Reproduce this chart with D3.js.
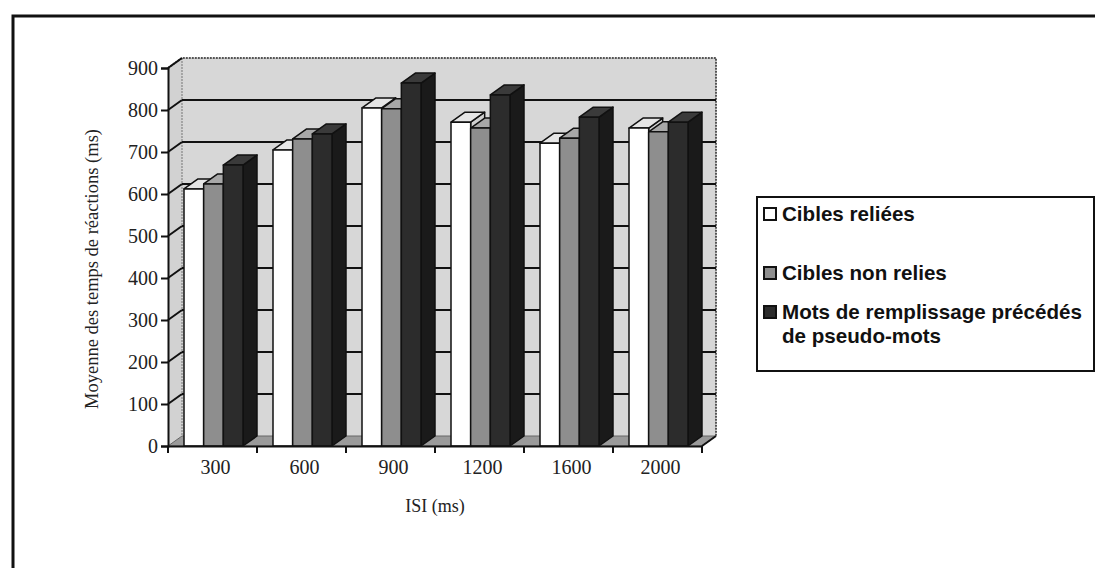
<!DOCTYPE html>
<html>
<head>
<meta charset="utf-8">
<script src="https://cdn.jsdelivr.net/npm/d3@7"></script>
<style>
  html, body { margin: 0; padding: 0; background: #fff; }
  svg { display: block; }
</style>
</head>
<body>
<svg id="chart" width="1095" height="568"></svg>
<script>
// ISI conditions (x categories)
const categories = ["300", "600", "900", "1200", "1600", "2000"];
// Mean reaction times (ms) per series
const ciblesReliees = [612, 705, 805, 771, 721, 757];
const ciblesNonRelies = [624, 731, 803, 757, 733, 748];
const motsRemplissage = [669, 743, 864, 836, 783, 771];
const seriesNames = ["Cibles reliées", "Cibles non relies", "Mots de remplissage précédés de pseudo-mots"];
const yTicks = [0, 100, 200, 300, 400, 500, 600, 700, 800, 900];

const seriesValues = [ciblesReliees, ciblesNonRelies, motsRemplissage];
const seriesStyle = [
  { front: "#ffffff", top: "#e6e6e6", side: "#d0d0d0" },
  { front: "#8e8e8e", top: "#a8a8a8", side: "#6e6e6e" },
  { front: "#2c2c2c", top: "#3a3a3a", side: "#1a1a1a" }
];

const svg = d3.select("#chart");

// Projection of the pseudo-3D box: depth offset towards upper right
const DX = 14, DY = -10;
const x0 = 168, x1 = 702;

const x = d3.scaleBand().domain(categories).range([x0, x1]).paddingInner(0).paddingOuter(0);
const y = d3.scaleLinear().domain([0, 900]).range([446, 68]);
const sub = d3.scaleBand().domain(d3.range(3)).range([16, 75]).padding(0);

// Outer frame
svg.append("rect")
  .attr("x", 13).attr("y", 16).attr("width", 1100).attr("height", 570)
  .attr("fill", "none").attr("stroke", "#111").attr("stroke-width", 3);

const plot = svg.append("g");

// Back wall
plot.append("rect")
  .attr("x", x0 + DX).attr("y", y(900) + DY)
  .attr("width", x1 - x0).attr("height", y(0) - y(900))
  .attr("fill", "#d7d7d7");

// Left side wall
plot.append("path")
  .attr("d", d3.line()([[x0, y(0)], [x0, y(900)], [x0 + DX, y(900) + DY], [x0 + DX, y(0) + DY]]) + "Z")
  .attr("fill", "#d2d2d2");

// Back wall border (top and right) dotted
plot.append("path")
  .attr("d", d3.line()([[x0, y(900)], [x0 + DX, y(900) + DY], [x1 + DX, y(900) + DY], [x1 + DX, y(0) + DY]]))
  .attr("fill", "none").attr("stroke", "#555").attr("stroke-width", 2).attr("stroke-dasharray", "2,1");
plot.append("line")
  .attr("x1", x0 + DX).attr("x2", x0 + DX).attr("y1", y(900) + DY).attr("y2", y(0) + DY)
  .attr("stroke", "#777").attr("stroke-width", 1).attr("stroke-dasharray", "2,1");

// Gridlines on the back wall and the side wall
yTicks.filter(v => v > 0 && v < 900).forEach(v => {
  plot.append("line")
    .attr("x1", x0 + DX).attr("x2", x1 + DX)
    .attr("y1", y(v) + DY).attr("y2", y(v) + DY)
    .attr("stroke", "#111").attr("stroke-width", 2);
});
yTicks.filter(v => v > 0).forEach(v => {
  plot.append("line")
    .attr("x1", x0).attr("y1", y(v))
    .attr("x2", x0 + DX).attr("y2", y(v) + DY)
    .attr("stroke", "#111").attr("stroke-width", 2);
});

// Floor
plot.append("path")
  .attr("d", d3.line()([[x0, y(0)], [x1, y(0)], [x1 + DX, y(0) + DY], [x0 + DX, y(0) + DY]]) + "Z")
  .attr("fill", "#9a9a9a").attr("stroke", "#666").attr("stroke-width", 1);

// Bars, drawn left to right so each bar hides its neighbour's side face
categories.forEach((cat, ci) => {
  seriesValues.forEach((vals, si) => {
    const v = vals[ci];
    const bx = x(cat) + sub(si);
    const bw = sub.bandwidth();
    const yt = y(v), yb = y(0);
    const st = seriesStyle[si];
    const g = plot.append("g").attr("stroke", "#111").attr("stroke-width", 1.5).attr("stroke-linejoin", "round");
    g.append("path")
      .attr("d", d3.line()([[bx + bw, yt], [bx + bw + DX, yt + DY], [bx + bw + DX, yb + DY], [bx + bw, yb]]) + "Z")
      .attr("fill", st.side);
    g.append("path")
      .attr("d", d3.line()([[bx, yt], [bx + bw, yt], [bx + bw + DX, yt + DY], [bx + DX, yt + DY]]) + "Z")
      .attr("fill", st.top);
    g.append("rect")
      .attr("x", bx).attr("y", yt).attr("width", bw).attr("height", yb - yt)
      .attr("fill", st.front);
  });
});

// Floor right edge
plot.append("line")
  .attr("x1", x1).attr("y1", y(0)).attr("x2", x1 + DX).attr("y2", y(0) + DY)
  .attr("stroke", "#111").attr("stroke-width", 2);

// Y axis
const yAxis = d3.axisLeft(y).tickValues(yTicks).tickSize(7).tickPadding(3);
const gy = svg.append("g").attr("transform", `translate(${x0},0)`).call(yAxis);
gy.select(".domain").attr("stroke", "#111").attr("stroke-width", 2);
gy.selectAll(".tick line").attr("stroke", "#111").attr("stroke-width", 2);
gy.selectAll(".tick text")
  .attr("font-family", "'Liberation Serif', 'Times New Roman', serif")
  .attr("font-size", 20).attr("fill", "#222");

// X axis
const xAxis = d3.axisBottom(x).tickSize(0).tickPadding(14);
const gx = svg.append("g").attr("transform", `translate(0,${y(0)})`).call(xAxis);
gx.select(".domain").attr("stroke", "#111").attr("stroke-width", 2);
gx.selectAll(".tick text")
  .attr("dx", 3)
  .attr("font-family", "'Liberation Serif', 'Times New Roman', serif")
  .attr("font-size", 20).attr("fill", "#222");
// Category boundary ticks
const bounds = categories.map(c => x(c)).concat([x1]);
gx.selectAll(".bound").data(bounds).join("line")
  .attr("class", "bound")
  .attr("x1", d => d).attr("x2", d => d).attr("y1", 0).attr("y2", 7)
  .attr("stroke", "#111").attr("stroke-width", 2);

// Axis titles
svg.append("text")
  .attr("x", 435).attr("y", 512)
  .attr("text-anchor", "middle")
  .attr("font-family", "'Liberation Serif', 'Times New Roman', serif")
  .attr("font-size", 18).attr("fill", "#222")
  .text("ISI (ms)");
svg.append("text")
  .attr("transform", "translate(98,269) rotate(-90)")
  .attr("text-anchor", "middle")
  .attr("font-family", "'Liberation Serif', 'Times New Roman', serif")
  .attr("font-size", 18.5).attr("fill", "#222")
  .text("Moyenne des temps de réactions (ms)");

// Legend
const lg = svg.append("g");
lg.append("rect")
  .attr("x", 757).attr("y", 197).attr("width", 337).attr("height", 174)
  .attr("fill", "#fff").attr("stroke", "#111").attr("stroke-width", 2);
const legendRows = [
  { lines: ["Cibles reliées"], base: 221 },
  { lines: ["Cibles non relies"], base: 280 },
  { lines: ["Mots de remplissage précédés", "de pseudo-mots"], base: 319 }
];
legendRows.forEach((row, i) => {
  lg.append("rect")
    .attr("x", 764).attr("y", row.base - 13).attr("width", 12).attr("height", 12)
    .attr("fill", seriesStyle[i].front).attr("stroke", "#111").attr("stroke-width", 2);
  const t = lg.append("text")
    .attr("x", 782).attr("y", row.base)
    .attr("font-family", "'Liberation Sans', Arial, sans-serif")
    .attr("font-weight", "bold").attr("font-size", 20.6).attr("fill", "#111");
  row.lines.forEach((ln, k) => {
    t.append("tspan").attr("x", 782).attr("dy", k === 0 ? 0 : 24).text(ln);
  });
});
</script>
</body>
</html>
